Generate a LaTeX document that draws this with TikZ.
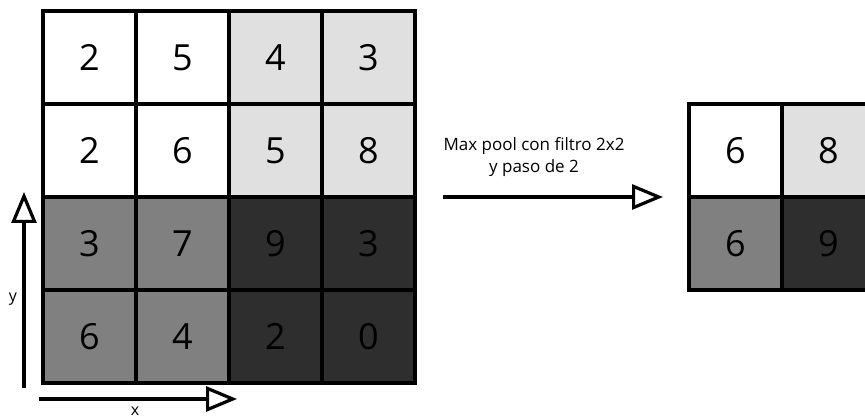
\documentclass[tikz,border=0pt]{standalone}
\usepackage{fontspec}
\setmainfont{Open Sans}
\usepackage{tikz}
\usetikzlibrary{arrows.meta}
\definecolor{lightcell}{RGB}{224,224,224}
\definecolor{midcell}{RGB}{128,128,128}
\definecolor{darkcell}{RGB}{46,46,46}

\begin{document}
\begin{tikzpicture}[x=1pt,y=-1pt,
    cell/.style={draw,line width=3.5pt,minimum size=93pt,inner sep=0pt,outer sep=0pt,
      font=\fontsize{36}{36}\selectfont},
    axis/.style={line width=3.2pt,-{Triangle[open,length=31pt,width=25pt]}}]
        % Parameters
        \def\cs{93}
        \def\lx{43}
        \def\ly{11}
        \def\rx{689}
        \def\ry{104}
        % Frame
        \useasboundingbox (0,0) rectangle (865,419);
        \clip (0,0) rectangle (865,419);
        % Input grid
        \foreach \val/\row/\col/\clr in {2/1/1/white,5/1/2/white,4/1/3/lightcell,3/1/4/lightcell,
            2/2/1/white,6/2/2/white,5/2/3/lightcell,8/2/4/lightcell,
            3/3/1/midcell,7/3/2/midcell,9/3/3/darkcell,3/3/4/darkcell,
            6/4/1/midcell,4/4/2/midcell,2/4/3/darkcell,0/4/4/darkcell}
            \node[cell,fill=\clr] (in\row\col) at ({\lx+(\col-0.5)*\cs},{\ly+(\row-0.5)*\cs}) {\val};
        % Pooled grid
        \foreach \val/\row/\col/\clr in {6/1/1/white,8/1/2/lightcell,6/2/1/midcell,9/2/2/darkcell}
            \node[cell,fill=\clr] (out\row\col) at ({\rx+(\col-0.5)*\cs},{\ry+(\row-0.5)*\cs}) {\val};
        % Axes
        \coordinate (yStart) at (24,388);
        \coordinate (yEnd) at (24,192);
        \coordinate (xStart) at (39,399);
        \coordinate (xEnd) at (237,399);
        \draw[axis] (yStart) -- (yEnd);
        \draw[axis] (xStart) -- (xEnd);
        \node[font=\fontsize{16}{16}\selectfont] (yLabel) at (13,299) {y};
        \node[font=\fontsize{16}{16}\selectfont] (xLabel) at (135,411) {x};
        % Pooling arrow
        \coordinate (poolStart) at (443,197);
        \coordinate (poolEnd) at (663,197);
        \draw[axis] (poolStart) -- (poolEnd);
        \node[align=center,font=\fontsize{17}{22}\selectfont] (poolLabel) at (534,157)
            {Max pool con filtro 2x2\\y paso de 2};
    \end{tikzpicture}
\end{document}
